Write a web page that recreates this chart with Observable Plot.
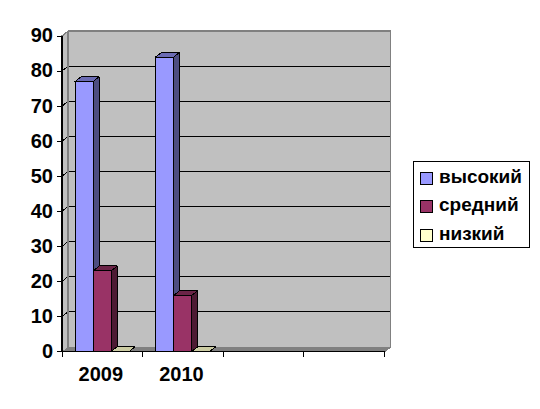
<!DOCTYPE html>
<html><head><meta charset="utf-8">
<script src="https://cdn.jsdelivr.net/npm/d3@7"></script>
<script src="https://cdn.jsdelivr.net/npm/@observablehq/plot@0.6"></script>
<style>
html,body{margin:0;padding:0;background:#fff}
svg{shape-rendering:crispEdges}
#wrap{position:relative;width:540px;height:409px;font-family:"Liberation Sans",Arial,sans-serif}
#legend{position:absolute;left:413px;top:161px;width:115px;height:85px;border:1px solid #000;background:#fff;box-sizing:content-box}
.row{position:absolute;left:6px;height:20px;line-height:20px;font-size:19px;font-weight:bold;color:#000;white-space:nowrap}
.sw{position:absolute;left:0;top:4px;width:11px;height:11px;border:1px solid #000}
.row span{position:absolute;left:19px;top:-1px}
</style></head><body><div id="wrap"><div id="legend"></div></div>
<script>
const categories = ["2009", "2010"];
const seriesNames = ["высокий", "средний", "низкий"];
const high = [77, 84];
const mid = [23, 16];
const low = [0, 0];
const yTicks = [0,10,20,30,40,50,60,70,80,90];
const xSlots = [0,1,2,3,4];
const frontColors = ["#9999ff","#993366","#ffffcc"];
const sideColors = ["#4d4d80","#4d1a33","#808066"];
const topColors = ["#6b6bb3","#6b2447","#ccccA3"];
const series = [high, mid, low];

const depthX = 0.0775, depthY = 1.4;
const barW = 0.2236, gap = 0.1615;

const poly = (pts, fill, stroke, sw=1) => Plot.line(
  [...pts, pts[0]].map(([x,y]) => ({x,y})),
  {x:"x", y:"y", fill, stroke, strokeWidth:sw, strokeLinejoin:"miter"});

const marks = [];
// left wall, back wall, floor
marks.push(poly([[0,0],[depthX,depthY],[depthX,90+depthY],[0,90]], "#c0c0c0", "none"));
marks.push(poly([[depthX,depthY],[4+depthX,depthY],[4+depthX,90+depthY],[depthX,90+depthY]], "#c0c0c0", "none"));
// grid
for (const v of yTicks.slice(1,-1)) {
  marks.push(Plot.line([[0,v],[depthX,v+depthY],[4+depthX,v+depthY]].map(([x,y])=>({x,y})),
    {x:"x",y:"y",stroke:"#000",strokeWidth:1}));
}
marks.push(poly([[0,0],[4,0],[4+depthX,depthY],[depthX,depthY]], "#808080", "none"));
// wall outline
marks.push(Plot.line([[0,90],[depthX,90+depthY],[4+depthX,90+depthY],[4+depthX,depthY],[4,0]].map(([x,y])=>({x,y})),
  {x:"x",y:"y",stroke:"#808080",strokeWidth:1.5}));
marks.push(Plot.line([[depthX,depthY],[depthX,90+depthY]].map(([x,y])=>({x,y})),
  {x:"x",y:"y",stroke:"#808080",strokeWidth:1.5}));
// bars
categories.forEach((c,i) => {
  series.forEach((s,k) => {
    const x0 = i + gap + k*barW, x1 = x0 + barW, v = s[i];
    marks.push(poly([[x1,0],[x1+depthX,depthY],[x1+depthX,v+depthY],[x1,v]], sideColors[k], "#000"));
    marks.push(poly([[x0,v],[x1,v],[x1+depthX,v+depthY],[x0+depthX,v+depthY]], topColors[k], "#000"));
    if (v > 0) marks.push(poly([[x0,0],[x1,0],[x1,v],[x0,v]], frontColors[k], "#000"));
  });
});
// axes
marks.push(Plot.ruleX([0],{y1:0,y2:90,stroke:"#000",strokeWidth:1.5}));
marks.push(Plot.ruleY([0],{x1:0,x2:4,stroke:"#000",strokeWidth:1.5}));
marks.push(Plot.axisY(yTicks,{anchor:"left",tickSize:5,tickPadding:4,label:null,fontSize:20,fontWeight:"bold",tickFormat:d=>String(d),fill:"#000"}));
marks.push(Plot.axisX(xSlots,{anchor:"bottom",tickSize:6,label:null,tickFormat:()=>""}));
marks.push(Plot.text(categories,{x:(d,i)=>i+0.5,y:0,text:d=>d,dy:23,dx:-1.5,fontSize:20,fontWeight:"bold",fill:"#000"}));

const chart = Plot.plot({
  width:540,height:409,
  marginLeft:61.5,marginRight:156,marginTop:35.5,marginBottom:58,
  x:{type:"linear",domain:[0,4]},
  y:{type:"linear",domain:[0,90]},
  style:{fontFamily:'"Liberation Sans",Arial,sans-serif',background:"#fff",overflow:"visible"},
  marks
});
document.getElementById("wrap").prepend(chart);
const lg = document.getElementById("legend");
seriesNames.forEach((n,k)=>{
  const r=document.createElement("div");r.className="row";r.style.top=(5.5+k*28.5)+"px";
  const sw=document.createElement("div");sw.className="sw";sw.style.background=frontColors[k];
  const t=document.createElement("span");t.textContent=n;
  r.append(sw,t);lg.append(r);
});
</script></body></html>
